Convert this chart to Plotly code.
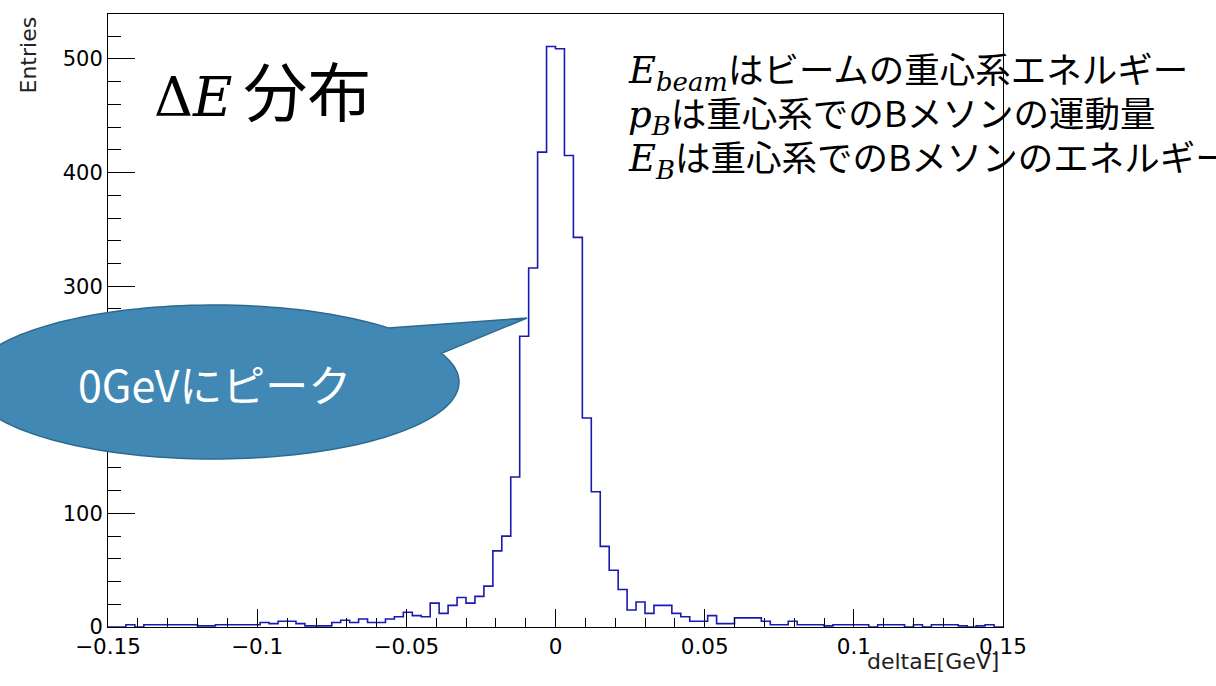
import numpy as np
import plotly.graph_objects as go

# ---- data: 100 bins of deltaE from -0.15 to 0.15 GeV ----
x_min, x_max, n_bins = -0.15, 0.15, 100
counts = [
    0, 0, 2, 0, 2, 2, 2, 2, 2, 2,
    1, 1, 2, 2, 2, 2, 2, 4, 3, 5,
    5, 3, 1, 1, 1, 4, 6, 4, 7, 4,
    4, 7, 9, 13, 10, 9, 21, 12, 19, 26,
    21, 27, 36, 67, 80, 132, 256, 316, 418, 511,
    509, 415, 343, 184, 119, 71, 50, 33, 15, 22,
    12, 19, 19, 12, 9, 5, 5, 10, 3, 3,
    8, 8, 8, 5, 2, 2, 5, 2, 2, 2,
    1, 2, 2, 2, 2, 0, 2, 2, 2, 0,
    2, 0, 2, 2, 2, 1, 0, 1, 2, 0,
]
x_ticks = [-0.15, -0.1, -0.05, 0, 0.05, 0.1, 0.15]
x_tick_text = ["\u22120.15", "\u22120.1", "\u22120.05", "0", "0.05", "0.1", "0.15"]
y_ticks = [0, 100, 200, 300, 400, 500]

edges = np.linspace(x_min, x_max, n_bins + 1)
step_y = list(counts) + [counts[-1]]

# ---- layout geometry (pixels) ----
W, H = 1216, 686
ML, MR, MT, MB = 108, 213, 14, 59
PW, PH = W - ML - MR, H - MT - MB

def px2paper(px, py):
    return (px - ML) / PW, (H - MB - py) / PH

fig = go.Figure()
fig.add_trace(go.Scatter(
    x=edges, y=step_y, mode="lines", line_shape="hv",
    line=dict(color="#1a1ab0", width=1.6), hoverinfo="skip", showlegend=False,
))

sans = "DejaVu Sans, Liberation Sans, sans-serif"
fig.update_xaxes(
    range=[x_min, x_max], tickvals=x_ticks, ticktext=x_tick_text,
    ticks="inside", ticklen=18, tickwidth=1, tickcolor="#000",
    minor=dict(dtick=0.01, tick0=-0.15, ticks="inside", ticklen=9, tickcolor="#000", tickwidth=1, showgrid=False),
    showline=True, linecolor="#000", linewidth=1, mirror=True,
    showgrid=False, zeroline=False, tickfont=dict(family=sans, size=21.5, color="#000"),
)
fig.update_yaxes(
    range=[0, 539.6], tickvals=y_ticks,
    ticks="inside", ticklen=27, tickwidth=1, tickcolor="#000",
    minor=dict(dtick=20, tick0=0, ticks="inside", ticklen=13, tickcolor="#000", tickwidth=1, showgrid=False),
    showline=True, linecolor="#000", linewidth=1, mirror=True,
    showgrid=False, zeroline=False, tickfont=dict(family=sans, size=21, color="#000"),
)

# ---- callout bubble ----
cx, cy, rx, ry = 214, 382, 245, 77
t1 = np.degrees(np.arctan2((353.8 - cy) / ry, (438 - cx) / rx))
t2 = np.degrees(np.arctan2((328.6 - cy) / ry, (386 - cx) / rx)) + 360
ts = np.radians(np.linspace(t1, t2, 160))
pts = [(cx + rx * np.cos(t), cy + ry * np.sin(t)) for t in ts] + [(527, 318)]
path = "M " + " L ".join("%.5f,%.5f" % px2paper(a, b) for a, b in pts) + " Z"
fig.add_shape(type="path", path=path, xref="paper", yref="paper",
              fillcolor="#4189b4", line=dict(color="#2d6a90", width=1.5), layer="above")

cjk = "Noto Sans CJK JP"
ann = []
px, py = px2paper(214, 383)
ann.append(dict(x=px, y=py, text="0GeVにピーク", showarrow=False,
                font=dict(family=cjk, size=43, color="white"), xanchor="center", yanchor="middle"))

px, py = px2paper(152, 88)
ann.append(dict(x=px, y=py,
                text="<span style='font-family:DejaVu Serif;font-size:54px'>Δ<i>E</i>\u2009</span>分布",
                showarrow=False, font=dict(family=cjk, size=64, color="black"),
                xanchor="left", yanchor="middle"))

math = "<span style='font-family:DejaVu Serif;font-size:37px'>%s</span>"
lines = [
    (math % "<i>E</i><sub><i>beam</i></sub>" + "はビームの重心系エネルギー", 70),
    (math % "<i>p</i><sub><i>B</i></sub>" + "は重心系でのBメソンの運動量", 113),
    (math % "<i>E</i><sub><i>B</i></sub>" + "は重心系でのBメソンのエネルギー", 157),
]
for txt, yy in lines:
    px, py = px2paper(626, yy)
    ann.append(dict(x=px, y=py, text=txt, showarrow=False,
                    font=dict(family=cjk, size=35.5, color="black"),
                    xanchor="left", yanchor="middle"))

px, py = px2paper(28, 15)
ann.append(dict(x=px, y=py, text="Entries", textangle=-90, showarrow=False,
                font=dict(family=sans, size=22, color="#222"),
                xanchor="center", yanchor="top"))
px, py = px2paper(1001, 661)
ann.append(dict(x=px, y=py, text="deltaE[GeV]", showarrow=False,
                font=dict(family=sans, size=22, color="#222"),
                xanchor="right", yanchor="middle"))

for a in ann:
    a.update(xref="paper", yref="paper")

fig.update_layout(
    width=W, height=H, margin=dict(l=ML, r=MR, t=MT, b=MB, pad=0),
    paper_bgcolor="white", plot_bgcolor="white", annotations=ann, showlegend=False,
)
fig.write_html("out.html", config={"displayModeBar": False},
               post_script="document.body.style.margin='0px';document.body.style.overflow='hidden';")
